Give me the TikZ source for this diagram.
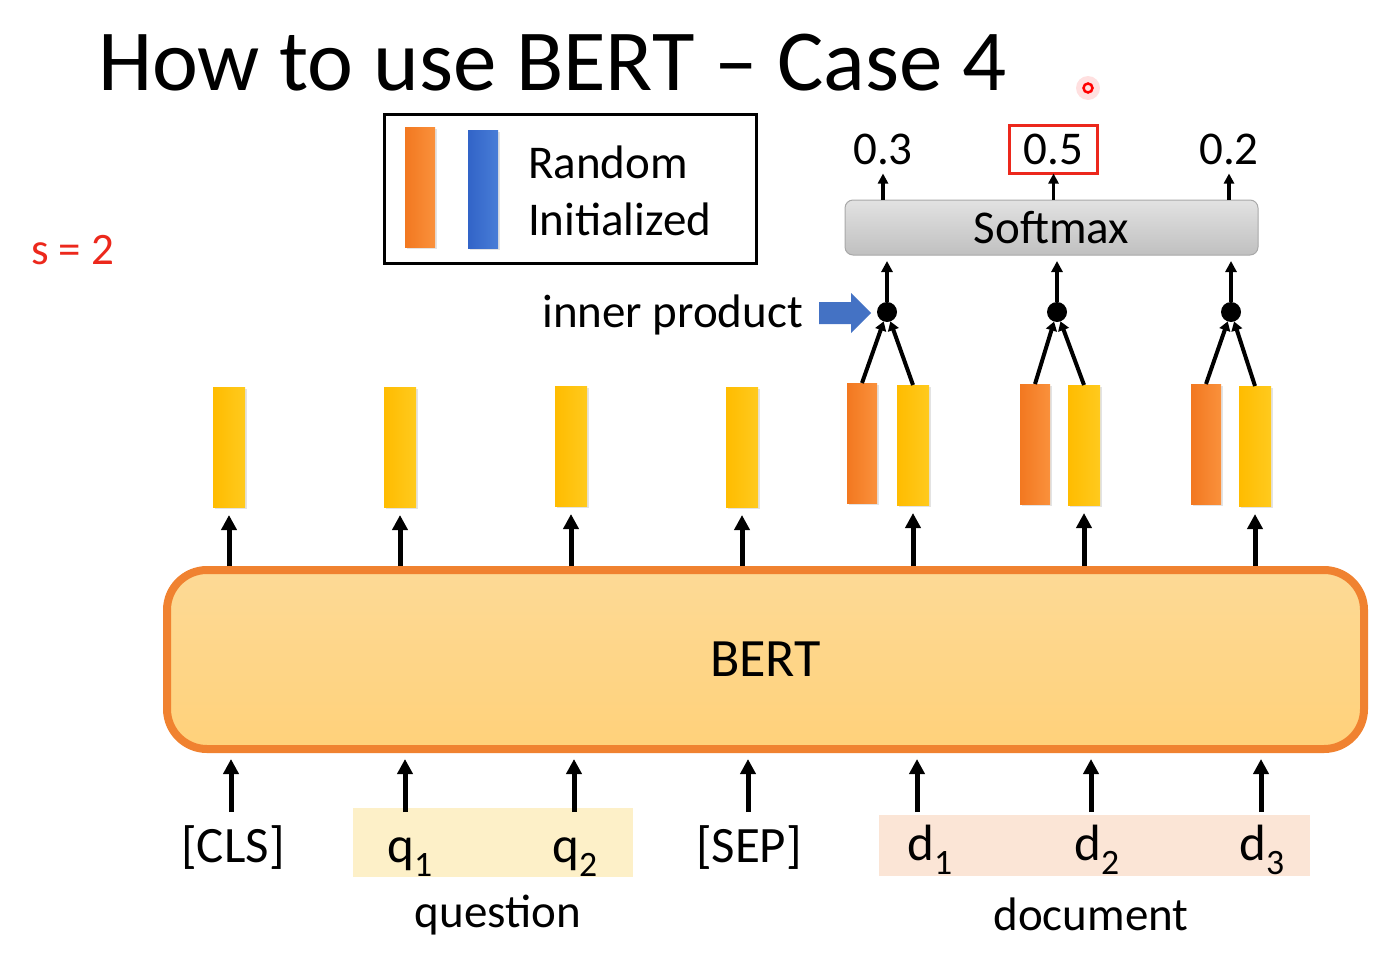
\documentclass[tikz,border=0pt]{standalone}
\usepackage{fontspec}
\setmainfont{Carlito}
\usetikzlibrary{arrows.meta,shadows}
\definecolor{orA}{RGB}{242,120,32}
\definecolor{orB}{RGB}{250,145,60}
\definecolor{yeA}{RGB}{255,188,0}
\definecolor{yeB}{RGB}{255,202,30}
\definecolor{blA}{RGB}{50,100,200}
\definecolor{blB}{RGB}{72,125,215}
\definecolor{bertTop}{RGB}{253,218,150}
\definecolor{bertBot}{RGB}{255,209,122}
\definecolor{bertLine}{RGB}{240,130,48}
\definecolor{smTop}{RGB}{226,226,226}
\definecolor{smBot}{RGB}{192,192,192}
\definecolor{smLine}{RGB}{168,168,168}
\definecolor{qband}{RGB}{253,240,200}
\definecolor{dband}{RGB}{251,229,214}
\definecolor{sred}{RGB}{236,40,28}
\definecolor{arrblue}{RGB}{68,114,196}
\begin{document}
\begin{tikzpicture}[x=1pt,y=-1pt,
  every node/.style={inner sep=0pt,outer sep=0pt},
  lbl/.style={font=\fontsize{47}{56}\selectfont},
  tok/.style={font=\fontsize{51}{60}\selectfont},
  barshadow/.style={drop shadow={opacity=0.22,shadow xshift=2pt,shadow yshift=-2pt}},
  ybar/.style={minimum width=32pt,minimum height=120pt,left color=yeA,right color=yeB,barshadow},
  obar/.style={minimum width=30pt,minimum height=120pt,left color=orA,right color=orB,barshadow},
  bbar/.style={minimum width=30pt,minimum height=118pt,left color=blA,right color=blB,barshadow},
  bertbox/.style={draw=bertLine,line width=8pt,rounded corners=40pt,top color=bertTop,bottom color=bertBot,outer sep=4pt},
  smbox/.style={draw=smLine,line width=1pt,rounded corners=8pt,top color=smTop,bottom color=smBot},
  arrbig/.style={line width=5pt,-{Triangle[length=15pt,width=15pt]}},
  arrmid/.style={line width=3.5pt,-{Triangle[length=11pt,width=11pt]}},
  arrsmall/.style={line width=3.5pt,-{Triangle[length=10pt,width=10pt]}},
  arrtiny/.style={line width=4pt,-{Triangle[length=9pt,width=11pt]}},
  dot/.style={circle,fill=black,minimum size=20pt}
]
\useasboundingbox (0,0) rectangle (1396,961);

% title and side label
\node[font=\fontsize{87}{100}\selectfont,anchor=base west] (title) at (98,90) {How to use BERT – Case 4};
\node[lbl,text=sred,font=\fontsize{45}{54}\selectfont,anchor=base west] (sval) at (31,264) {s = 2};

% pointer mark
\fill[red,opacity=0.12] (1088,88) circle (12);
\draw[red,line width=2.5pt] (1088,88) circle (4.5);

% legend
\node[draw,line width=3pt,minimum width=372pt,minimum height=149pt] (leg) at (570.5,189) {};
\node[obar] (lo) at (420,187) {};
\node[bbar] (lb) at (483,189) {};
\node[lbl,anchor=base west] (r1) at (528,178) {Random};
\node[lbl,anchor=base west] (r2) at (528,235) {Initialized};

% softmax
\node[smbox,lbl,minimum width=413pt,minimum height=55pt] (sm) at (1051.5,227.5) {Softmax};
\node[lbl,minimum width=88pt,minimum height=48pt] (n1) at (883,149.5) {0.3};
\node[lbl,minimum width=88pt,minimum height=48pt,draw=sred,line width=3pt] (n2) at (1053.5,149.5) {0.5};
\node[lbl,minimum width=88pt,minimum height=48pt] (n3) at (1229,149.5) {0.2};
\draw[arrsmall] (sm.north -| n1) -- (n1.south);
\draw[arrsmall] (sm.north -| n2) -- (n2.south);
\draw[arrsmall] (sm.north -| n3) -- (n3.south);

% inner product dots
\node[dot] (p1) at (887,312) {};
\node[dot] (p2) at (1057,312) {};
\node[dot] (p3) at (1231,312) {};
\draw[arrmid,shorten >=6pt] (p1) -- (p1 |- sm.south);
\draw[arrmid,shorten >=6pt] (p2) -- (p2 |- sm.south);
\draw[arrmid,shorten >=6pt] (p3) -- (p3 |- sm.south);

\node[lbl,anchor=base east] (ip) at (803,327) {inner product};
\fill[arrblue] (819,302) -- (851,302) -- (851,293) -- (871,313) -- (851,333) -- (851,324) -- (819,324) -- cycle;

% output bars
\node[ybar] (y1) at (229,447) {};
\node[ybar] (y2) at (400,447) {};
\node[ybar] (y3) at (571,446) {};
\node[ybar] (y4) at (742,447) {};
\node[obar] (o1) at (862,443) {};
\node[ybar] (y5) at (913,445) {};
\node[obar] (o2) at (1035,444) {};
\node[ybar] (y6) at (1084,445) {};
\node[obar] (o3) at (1206,444) {};
\node[ybar] (y7) at (1255,446) {};

\draw[arrtiny] (o1.north) -- (p1);
\draw[arrtiny] (y5.north) -- (p1);
\draw[arrtiny] (o2.north) -- (p2);
\draw[arrtiny] (y6.north) -- (p2);
\draw[arrtiny] (o3.north) -- (p3);
\draw[arrtiny] (y7.north) -- (p3);

% BERT
\node[bertbox,font=\fontsize{54}{64}\selectfont,minimum width=1197pt,minimum height=179pt] (bert) at (765.5,659.5) {BERT};
\foreach \b in {y1,y2,y3,y4,y5,y6,y7}
  \draw[arrbig,shorten >=8pt] (bert.north -| \b) -- (\b.south);

% input bands and tokens
\node[fill=qband,minimum width=280pt,minimum height=69pt] (qb) at (493,842.5) {};
\node[fill=dband,minimum width=431pt,minimum height=61pt] (db) at (1094.5,845.5) {};

\node[tok,anchor=base] (t1) at (233,862) {[CLS]};
\node[tok,anchor=base] (t2) at (410,862) {q\textsubscript{1}};
\node[tok,anchor=base] (t3) at (575,862) {q\textsubscript{2}};
\node[tok,anchor=base] (t4) at (749,862) {[SEP]};
\node[tok,anchor=base] (t5) at (930,860) {d\textsubscript{1}};
\node[tok,anchor=base] (t6) at (1097,860) {d\textsubscript{2}};
\node[tok,anchor=base] (t7) at (1262,860) {d\textsubscript{3}};

\coordinate (b1) at (231,812);
\coordinate (b2) at (405,812);
\coordinate (b3) at (574,812);
\coordinate (b4) at (748,812);
\coordinate (b5) at (917,812);
\coordinate (b6) at (1091,812);
\coordinate (b7) at (1261,812);
\foreach \b in {b1,b2,b3,b4,b5,b6,b7}
  \draw[arrbig,shorten >=6pt] (\b) -- (\b |- bert.south);

\node[lbl,anchor=base] (qlab) at (498,927) {question};
\node[lbl,anchor=base] (dlab) at (1091,930) {document};
\end{tikzpicture}
\end{document}
